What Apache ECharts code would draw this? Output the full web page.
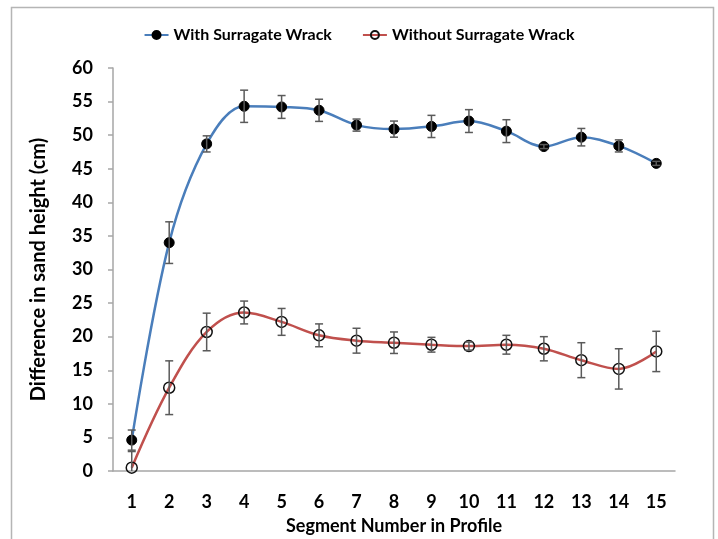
<!DOCTYPE html>
<html>
<head>
<meta charset="utf-8">
<script src="https://cdn.jsdelivr.net/npm/echarts@6/dist/echarts.min.js"></script>
<style>
  html, body { margin: 0; padding: 0; background: #ffffff; }
  #chart { width: 718px; height: 539px; }
</style>
</head>
<body>
<div id="chart"></div>
<script>
// Segment numbers along the beach profile
const segments = ['1','2','3','4','5','6','7','8','9','10','11','12','13','14','15'];

// Mean difference in sand height (cm) and standard error per segment
const withWrack      = [4.6, 34.0, 48.7, 54.3, 54.2, 53.7, 51.5, 50.9, 51.3, 52.1, 50.6, 48.3, 49.7, 48.4, 45.8];
const withWrackErr   = [1.5, 3.1, 1.2, 2.4, 1.7, 1.65, 0.9, 1.2, 1.65, 1.7, 1.7, 0.3, 1.3, 0.9, 0.3];
const withoutWrack    = [0.5, 12.4, 20.7, 23.6, 22.2, 20.2, 19.4, 19.1, 18.8, 18.6, 18.8, 18.2, 16.5, 15.2, 17.8];
const withoutWrackErr = [2.4, 4.0, 2.8, 1.7, 2.0, 1.7, 1.85, 1.6, 1.1, 0.6, 1.4, 1.8, 2.6, 3.0, 3.0];

const yTicks = { min: 0, max: 60, interval: 5 };

const FONT = 'Lato, "Open Sans", sans-serif';

function errorData(values, errs) {
  return values.map((v, i) => [i, v, errs[i]]);
}

// Vertical error bar with caps, clipped at the axis floor
function renderErrorBar(params, api) {
  const x = api.value(0);
  const v = api.value(1);
  const e = api.value(2);
  const hi = api.coord([x, v + e]);
  const lo = api.coord([x, Math.max(yTicks.min, v - e)]);
  const cap = 4;
  const style = { stroke: '#5a5a5a', lineWidth: 1.5 };
  const children = [
    { type: 'line', shape: { x1: hi[0], y1: hi[1], x2: lo[0], y2: lo[1] }, style: style },
    { type: 'line', shape: { x1: hi[0] - cap, y1: hi[1], x2: hi[0] + cap, y2: hi[1] }, style: style }
  ];
  if (v - e > yTicks.min) {
    children.push({ type: 'line', shape: { x1: lo[0] - cap, y1: lo[1], x2: lo[0] + cap, y2: lo[1] }, style: style });
  }
  return { type: 'group', children: children };
}

const chart = echarts.init(document.getElementById('chart'));

chart.setOption({
  animation: false,
  backgroundColor: '#ffffff',
  graphic: [{
    type: 'rect',
    left: 9, top: 5,
    shape: { width: 702, height: 545 },
    style: { fill: 'none', stroke: '#b5b5b5', lineWidth: 1.5 },
    silent: true
  }],
  legend: {
    top: 22,
    left: 'center',
    itemGap: 30,
    itemWidth: 24,
    itemHeight: 10,
    textStyle: { fontFamily: FONT, fontWeight: 'bold', fontSize: 16, color: '#000' },
    data: ['With Surragate Wrack', 'Without Surragate Wrack']
  },
  grid: { left: 113, right: 43, top: 68, bottom: 68, containLabel: false, outerBoundsMode: 'none' },
  xAxis: {
    type: 'category',
    data: segments,
    boundaryGap: true,
    axisLine: { lineStyle: { color: '#a6a6a6', width: 1.5 } },
    axisTick: { show: false },
    axisLabel: { fontFamily: FONT, fontWeight: 'bold', fontSize: 18, color: '#000', margin: 22 },
    name: 'Segment Number in Profile',
    nameLocation: 'middle',
    nameGap: 46,
    nameTextStyle: { fontFamily: FONT, fontWeight: 'bold', fontSize: 18, color: '#000' }
  },
  yAxis: {
    type: 'value',
    min: yTicks.min,
    max: yTicks.max,
    interval: yTicks.interval,
    splitLine: { show: false },
    axisLine: { show: true, lineStyle: { color: '#a6a6a6', width: 1.5 } },
    axisTick: { show: true, length: 5, lineStyle: { color: '#a6a6a6', width: 1.5 } },
    axisLabel: { fontFamily: FONT, fontWeight: 'bold', fontSize: 18, color: '#000', margin: 20 },
    name: 'Difference in sand height (cm)',
    nameLocation: 'middle',
    nameGap: 64,
    nameTextStyle: { fontFamily: FONT, fontWeight: 'bold', fontSize: 20, color: '#000' }
  },
  series: [
    {
      name: 'Without Surragate Wrack',
      type: 'line',
      data: withoutWrack,
      smooth: 0.35,
      symbol: 'circle',
      symbolSize: 11,
      z: 2,
      lineStyle: { color: '#c0504d', width: 2.5 },
      itemStyle: { color: 'rgba(255,255,255,0)', borderColor: '#111', borderWidth: 1.5 }
    },
    {
      name: 'With Surragate Wrack',
      type: 'line',
      data: withWrack,
      smooth: 0.35,
      symbol: 'circle',
      symbolSize: 10,
      z: 2,
      lineStyle: { color: '#4a7ebb', width: 2.5 },
      itemStyle: { color: '#000', borderColor: '#000', borderWidth: 1 }
    },
    {
      type: 'custom',
      renderItem: renderErrorBar,
      data: errorData(withoutWrack, withoutWrackErr),
      z: 3,
      silent: true
    },
    {
      type: 'custom',
      renderItem: renderErrorBar,
      data: errorData(withWrack, withWrackErr),
      z: 3,
      silent: true
    }
  ]
});
</script>
</body>
</html>
